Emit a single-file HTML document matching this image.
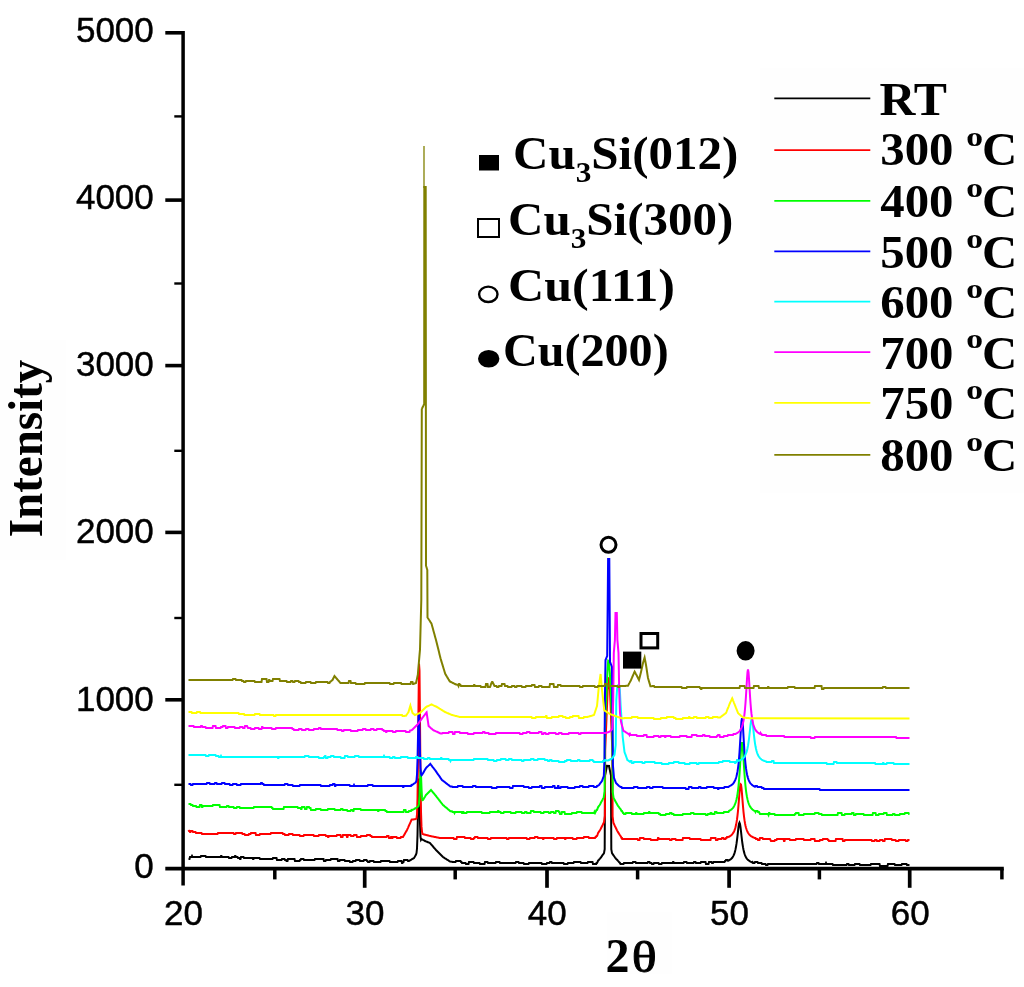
<!DOCTYPE html>
<html lang="en">
<head>
<meta charset="utf-8">
<title>XRD patterns</title>
<style>
html,body{margin:0;padding:0;background:#fff;}
body{width:1024px;height:987px;overflow:hidden;}
svg{display:block;}
</style>
</head>
<body>
<svg width="1024" height="987" viewBox="0 0 1024 987">
<rect x="0" y="0" width="1024" height="987" fill="#ffffff"/>
<rect x="0" y="340" width="66" height="220" fill="#fefefe"/>
<rect x="607" y="912" width="65" height="62" fill="#fefefe"/>
<rect x="760" y="68" width="264" height="425" fill="#fefefe"/>
<g fill="none" stroke-width="2" stroke-linejoin="miter" stroke-linecap="butt">
<path stroke="#000000" d="M188.5 859.0L189.5 859.0L190.0 857.0L191.5 857.0L192.0 856.0L192.5 857.0L200.5 857.0L201.0 856.0L205.5 856.0L206.0 857.0L220.5 857.0L221.0 856.0L221.5 856.0L222.0 857.0L228.5 857.0L229.0 858.0L231.5 858.0L232.0 857.0L234.5 857.0L235.0 856.0L235.5 856.0L236.0 857.0L237.5 857.0L238.0 858.0L239.5 858.0L240.0 859.0L240.5 859.0L241.0 857.0L243.5 857.0L244.0 858.0L252.5 858.0L253.0 859.0L253.5 859.0L254.0 858.0L259.5 858.0L260.0 859.0L272.5 859.0L273.0 858.0L276.5 858.0L277.0 860.0L281.5 860.0L282.0 859.0L284.5 859.0L285.0 860.0L286.0 860.0L286.5 861.0L287.5 861.0L288.0 859.0L294.5 859.0L295.0 861.0L299.5 861.0L300.0 860.0L300.5 860.0L301.0 859.0L303.5 859.0L304.0 860.0L314.5 860.0L315.0 859.0L323.5 859.0L324.0 861.0L325.5 861.0L326.0 860.0L330.5 860.0L331.0 859.0L337.5 859.0L338.0 861.0L339.5 861.0L340.0 860.0L344.5 860.0L345.0 861.0L349.5 861.0L350.0 862.0L352.5 862.0L353.0 861.0L355.5 861.0L356.0 860.0L359.5 860.0L360.0 861.0L363.5 861.0L364.0 860.0L366.5 860.0L367.0 861.0L367.5 861.0L368.0 862.0L369.5 862.0L370.0 861.0L373.5 861.0L374.0 862.0L380.5 862.0L381.0 861.0L389.5 861.0L390.0 862.0L397.5 862.0L398.0 861.0L401.5 861.0L402.0 863.0L402.5 863.0L403.0 862.0L403.5 862.0L404.0 860.0L407.5 860.0L408.0 861.0L409.0 861.0L409.5 860.7L410.0 860.4L410.5 860.1L411.0 859.8L411.5 859.5L412.0 859.2L412.5 858.9L413.0 858.6L413.5 858.3L414.0 858.0L414.5 857.2L415.0 856.3L415.5 855.5L416.0 854.6L416.5 853.1L417.0 848.5L417.5 835.0L418.0 809.4L418.5 783.3L419.0 778.6L419.5 799.0L420.0 823.5L420.5 836.6L421.0 839.7L421.5 838.9L422.0 839.3L422.5 839.6L423.0 839.9L423.5 840.1L424.0 840.4L424.5 840.7L425.0 841.0L425.5 841.2L426.0 841.4L426.5 841.6L427.0 841.8L427.5 842.0L428.0 842.2L428.5 842.4L429.0 842.6L429.5 842.8L430.0 843.0L430.5 843.6L431.0 844.2L431.5 844.7L432.0 845.3L432.5 845.9L433.0 846.5L433.5 847.1L434.0 847.7L434.5 848.2L435.0 848.8L435.5 849.4L436.0 850.0L436.5 850.5L437.0 851.0L437.5 851.5L438.0 852.0L438.5 852.5L439.0 853.0L439.5 853.5L440.0 854.0L440.5 854.5L441.0 855.0L441.5 855.5L442.0 856.0L442.5 856.5L443.0 857.0L443.5 857.3L444.0 857.6L444.5 858.0L445.0 858.3L445.5 858.6L446.0 858.9L446.5 859.2L447.0 859.6L447.5 859.9L448.0 860.2L448.5 860.5L449.0 860.9L449.5 861.2L450.0 861.5L452.0 861.7L452.5 862.0L455.5 862.0L456.0 861.0L460.5 861.0L461.0 862.0L461.5 862.0L462.0 863.0L465.5 863.0L466.0 864.0L468.5 864.0L469.0 862.0L473.5 862.0L474.0 863.0L479.5 863.0L480.0 864.0L484.5 864.0L485.0 862.0L487.5 862.0L488.0 863.0L495.5 863.0L496.0 862.0L499.5 862.0L500.0 863.0L515.5 863.0L516.0 862.0L518.5 862.0L519.0 863.0L523.5 863.0L524.0 864.0L528.5 864.0L529.0 863.0L541.5 863.0L542.0 864.0L546.5 864.0L547.0 863.0L549.5 863.0L550.0 862.0L551.5 862.0L552.0 863.0L563.5 863.0L564.0 864.0L567.5 864.0L568.0 863.0L573.5 863.0L574.0 862.0L580.5 862.0L581.0 863.0L587.5 863.0L588.0 862.0L592.5 862.0L593.0 864.0L596.2 864.0L596.5 863.0L597.0 863.0L597.5 862.0L598.0 860.8L598.5 860.2L599.0 859.7L599.5 859.1L600.0 858.6L600.5 858.0L600.6 857.9L601.0 857.4L601.5 856.7L602.0 855.9L602.5 855.2L603.0 854.5L603.5 853.8L604.0 853.1L604.5 850.3L604.7 849.2L605.0 780.1L605.0 775.5L605.5 773.2L606.0 770.8L606.5 768.4L607.0 766.0L607.0 765.8L609.0 765.9L609.0 766.1L609.5 768.5L610.0 770.9L610.5 773.3L611.0 775.6L611.0 780.2L611.3 849.3L611.5 850.4L612.0 853.2L612.5 853.9L613.0 854.6L613.5 855.3L614.0 856.0L614.5 856.7L615.0 857.5L615.4 858.0L615.5 858.1L616.0 858.7L616.5 859.2L617.0 859.8L617.5 860.3L618.0 860.9L618.5 861.4L619.0 862.0L619.5 862.5L619.8 862.9L620.0 862.9L620.5 864.0L623.5 864.0L624.0 863.0L632.5 863.0L633.0 862.0L635.5 862.0L636.0 863.0L647.5 863.0L648.0 862.0L649.5 862.0L650.0 863.0L651.5 863.0L652.0 864.0L653.5 864.0L654.0 863.0L658.5 863.0L659.0 864.0L661.5 864.0L662.0 863.0L672.5 863.0L673.0 862.0L673.5 862.0L674.0 863.0L683.5 863.0L684.0 862.0L686.5 862.0L687.0 863.0L693.5 863.0L694.0 862.0L695.5 862.0L696.0 863.0L700.5 863.0L701.0 862.0L705.5 862.0L706.0 864.0L708.5 864.0L709.0 862.0L711.5 862.0L712.0 863.0L713.0 863.0L713.5 862.0L724.5 862.0L725.0 861.0L725.5 861.0L726.0 860.0L727.5 860.0L728.0 860.7L728.5 860.5L729.0 860.2L729.5 860.0L730.0 859.7L730.5 859.4L731.0 859.0L731.5 858.5L732.0 858.0L732.5 857.3L733.0 856.6L733.5 855.6L734.0 854.5L734.5 853.1L735.0 851.4L735.5 849.4L736.0 846.8L736.5 843.7L737.0 840.0L737.5 835.8L738.0 831.3L738.5 827.0L739.0 823.9L739.5 822.7L740.0 823.9L740.5 827.1L741.0 831.4L741.5 836.0L742.0 840.3L742.5 844.0L743.0 847.2L743.5 849.8L744.0 851.9L744.5 853.6L745.0 855.1L745.5 856.2L746.0 857.2L746.5 858.1L747.0 858.8L747.5 859.4L748.0 859.9L748.5 860.3L749.0 860.7L749.5 861.0L750.0 861.3L750.5 861.6L751.0 861.8L751.5 862.1L752.0 862.3L752.5 862.0L753.0 863.0L754.5 863.0L755.0 862.0L757.5 862.0L758.0 863.0L761.5 863.0L762.0 864.0L765.5 864.0L766.0 865.0L767.5 865.0L768.0 864.0L816.5 864.0L817.0 863.0L818.5 863.0L819.0 864.0L825.5 864.0L826.0 863.0L826.5 864.0L832.5 864.0L833.0 865.0L846.5 865.0L847.0 864.0L848.5 864.0L849.0 865.0L854.5 865.0L855.0 864.0L859.5 864.0L860.0 865.0L870.5 865.0L871.0 864.0L879.5 864.0L880.0 866.0L887.5 866.0L888.0 864.0L894.5 864.0L895.0 865.0L901.5 865.0L902.0 864.0L906.5 864.0L907.0 865.0L909.5 865.0"/>
<path stroke="#ff0000" d="M188.5 830.0L189.0 831.0L189.5 831.0L190.0 832.0L190.5 832.0L191.0 831.0L192.5 831.0L193.0 832.0L195.5 832.0L196.0 833.0L201.5 833.0L202.0 834.0L217.5 834.0L218.0 833.0L233.5 833.0L234.0 834.0L235.5 834.0L236.0 833.0L242.0 833.0L242.5 834.0L244.5 834.0L245.0 835.0L248.5 835.0L249.0 834.0L250.5 834.0L251.0 833.0L255.5 833.0L256.0 835.0L259.5 835.0L260.0 834.0L270.5 834.0L271.0 833.0L282.5 833.0L283.0 834.0L284.5 834.0L285.0 835.0L288.5 835.0L289.0 834.0L292.5 834.0L293.0 835.0L299.5 835.0L300.0 836.0L303.5 836.0L304.0 835.0L313.5 835.0L314.0 836.0L318.5 836.0L319.0 835.0L325.5 835.0L326.0 836.0L327.5 836.0L328.0 837.0L328.5 837.0L329.0 836.0L336.5 836.0L337.0 835.0L340.5 835.0L341.0 837.0L342.5 837.0L343.0 835.0L346.5 835.0L347.0 837.0L347.5 837.0L348.0 835.0L350.5 835.0L351.0 836.0L353.5 836.0L354.0 835.0L356.5 835.0L357.0 837.0L360.5 837.0L361.0 836.0L366.5 836.0L367.0 835.0L370.0 835.0L370.5 836.0L371.5 836.0L372.0 837.0L386.5 837.0L387.0 836.0L388.5 836.0L389.0 838.0L390.5 838.0L391.0 837.0L391.5 837.0L392.0 838.0L392.5 838.0L393.0 837.0L396.5 837.0L397.0 838.0L400.5 838.0L401.0 837.0L403.0 837.0L403.5 836.1L404.0 835.2L404.5 834.4L405.0 833.5L405.5 832.6L406.0 831.7L406.5 830.9L407.0 830.0L407.5 828.9L408.0 827.8L408.5 826.6L409.0 825.5L409.5 824.4L410.0 823.3L410.5 822.2L411.0 821.0L411.5 819.9L411.6 819.7L412.0 819.6L412.5 819.6L413.0 819.5L413.5 819.4L414.0 819.3L414.5 819.2L415.0 819.2L415.5 819.1L416.0 818.9L416.5 818.5L417.0 814.3L417.5 798.5L418.0 760.9L418.5 705.4L419.0 663.5L419.5 670.6L420.0 720.8L420.5 776.6L421.0 811.6L421.5 826.4L422.0 831.6L422.5 833.9L423.0 834.1L423.5 834.3L424.0 834.4L424.5 834.5L425.0 834.7L425.5 834.8L426.0 834.9L426.5 835.1L427.0 835.2L427.5 835.3L428.0 835.5L428.5 835.6L429.0 835.7L429.5 835.9L430.0 836.0L430.5 836.1L431.0 836.2L431.5 836.3L432.0 836.4L432.5 836.5L433.0 836.6L433.5 836.7L434.0 836.8L434.5 836.9L435.0 837.0L435.5 837.1L436.0 837.2L436.5 837.3L437.0 837.4L437.5 837.5L438.0 837.6L438.5 837.7L439.0 837.8L439.5 837.9L440.0 838.0L453.5 838.0L454.0 839.0L456.5 839.0L457.0 837.0L464.5 837.0L465.0 838.0L470.5 838.0L471.0 839.0L473.5 839.0L474.0 838.0L474.5 838.0L475.0 837.0L477.5 837.0L478.0 838.0L487.5 838.0L488.0 839.0L490.5 839.0L491.0 838.0L506.5 838.0L507.0 839.0L508.5 839.0L509.0 838.0L526.5 838.0L527.0 839.0L529.5 839.0L530.0 838.0L534.5 838.0L535.0 837.0L537.5 837.0L538.0 838.0L542.5 838.0L543.0 839.0L543.5 839.0L544.0 838.0L553.5 838.0L554.0 839.0L556.5 839.0L557.0 838.0L564.5 838.0L565.0 839.0L565.5 839.0L566.0 838.0L572.5 838.0L573.0 839.0L576.5 839.0L577.0 838.0L583.5 838.0L584.0 837.0L588.5 837.0L589.0 838.0L595.0 838.0L595.5 837.0L596.0 837.0L596.5 836.0L597.0 836.0L597.5 835.0L598.0 833.1L598.5 832.4L599.0 831.6L599.5 830.9L599.9 830.3L600.0 830.1L600.5 829.2L601.0 828.2L601.5 827.2L602.0 826.2L602.5 825.3L603.0 824.3L603.5 823.3L604.0 822.3L604.5 818.7L604.9 815.9L605.0 790.5L605.2 750.3L605.5 742.6L606.0 730.2L606.5 718.3L606.5 717.8L607.0 706.2L607.5 694.6L607.6 691.1L608.0 685.9L608.5 678.4L608.5 678.3L609.0 678.6L609.3 678.8L609.5 682.7L610.0 690.8L610.0 691.6L610.5 702.9L611.0 715.5L611.1 718.8L611.5 728.7L612.0 742.2L612.3 750.8L612.5 791.5L612.6 816.4L613.0 819.5L613.4 822.8L613.5 823.0L614.0 824.0L614.5 825.1L615.0 826.2L615.5 827.2L616.0 828.3L616.5 829.3L617.0 830.4L617.2 830.8L617.5 831.3L618.0 832.1L618.5 832.9L619.0 833.7L619.5 834.5L620.0 835.2L620.5 836.0L621.0 836.8L621.5 838.0L622.0 838.0L622.2 839.0L637.5 839.0L638.0 840.0L639.5 840.0L640.0 838.0L643.5 838.0L644.0 839.0L650.5 839.0L651.0 840.0L657.5 840.0L658.0 838.0L658.5 838.0L659.0 839.0L669.5 839.0L670.0 840.0L671.5 840.0L672.0 839.0L675.5 839.0L676.0 840.0L682.5 840.0L683.0 838.0L689.5 838.0L690.0 839.0L700.5 839.0L701.0 840.0L710.5 840.0L711.0 838.0L715.5 838.0L716.0 840.0L717.5 840.0L718.0 839.0L721.5 839.0L722.0 838.0L723.5 838.0L724.0 839.0L725.5 839.0L726.0 838.0L726.5 838.0L727.0 837.0L727.5 837.0L728.0 837.1L728.5 836.9L729.0 836.7L729.5 836.5L730.0 836.2L730.5 835.8L731.0 835.5L731.5 835.0L732.0 834.5L732.5 833.9L733.0 833.2L733.5 832.4L734.0 831.5L734.5 830.3L735.0 828.9L735.5 827.2L736.0 825.1L736.5 822.6L737.0 819.4L737.5 815.5L738.0 810.8L738.5 805.2L739.0 798.9L739.5 792.5L740.0 787.1L740.5 784.1L741.0 784.5L741.5 788.1L742.0 793.8L742.5 800.2L743.0 806.4L743.5 811.9L744.0 816.4L744.5 820.2L745.0 823.2L745.5 825.7L746.0 827.7L746.5 829.3L747.0 830.7L747.5 831.8L748.0 832.7L748.5 833.5L749.0 834.2L749.5 834.8L750.0 835.3L750.5 835.7L751.0 836.1L751.5 836.4L752.0 836.7L752.5 837.0L753.0 837.2L753.5 837.4L754.0 837.6L754.5 838.0L755.5 838.0L756.0 839.0L757.5 839.0L758.0 840.0L759.5 840.0L760.0 838.0L762.5 838.0L763.0 839.0L770.0 839.0L770.5 840.0L771.0 841.0L774.5 841.0L775.0 840.0L776.5 840.0L777.0 839.0L783.5 839.0L784.0 841.0L784.5 841.0L785.0 839.0L789.5 839.0L790.0 840.0L795.5 840.0L796.0 839.0L803.5 839.0L804.0 840.0L810.5 840.0L811.0 839.0L814.5 839.0L815.0 841.0L819.5 841.0L820.0 840.0L822.5 840.0L823.0 839.0L827.5 839.0L828.0 840.0L828.5 840.0L829.0 841.0L835.5 841.0L836.0 839.0L842.5 839.0L843.0 841.0L844.5 841.0L845.0 840.0L871.5 840.0L872.0 841.0L874.5 841.0L875.0 840.0L876.5 840.0L877.0 841.0L879.5 841.0L880.0 840.0L882.5 840.0L883.0 841.0L884.5 841.0L885.0 839.0L891.5 839.0L892.0 840.0L895.5 840.0L896.0 841.0L898.5 841.0L899.0 840.0L905.5 840.0L906.0 841.0L907.5 841.0L908.0 840.0L909.5 840.0"/>
<path stroke="#00ff00" d="M188.5 804.0L190.5 804.0L191.0 805.0L192.5 805.0L193.0 806.0L196.0 806.0L196.5 807.0L199.5 807.0L200.0 805.0L201.5 805.0L202.0 807.0L202.5 807.0L203.0 806.0L212.5 806.0L213.0 805.0L219.5 805.0L220.0 807.0L226.5 807.0L227.0 806.0L228.5 806.0L229.0 807.0L233.5 807.0L234.0 808.0L236.5 808.0L237.0 807.0L239.5 807.0L240.0 808.0L253.5 808.0L254.0 807.0L271.5 807.0L272.0 808.0L272.5 808.0L273.0 809.0L283.5 809.0L284.0 807.0L297.5 807.0L298.0 808.0L300.5 808.0L301.0 809.0L301.5 809.0L302.0 807.0L304.5 807.0L305.0 809.0L306.5 809.0L307.0 807.0L309.0 807.0L309.5 808.0L310.5 808.0L311.0 810.0L315.5 810.0L316.0 809.0L320.5 809.0L321.0 810.0L327.5 810.0L328.0 809.0L334.5 809.0L335.0 810.0L340.5 810.0L341.0 809.0L342.5 809.0L343.0 810.0L347.0 810.0L347.5 811.0L350.5 811.0L351.0 810.0L352.5 810.0L353.0 811.0L353.5 811.0L354.0 809.0L360.5 809.0L361.0 810.0L377.5 810.0L378.0 811.0L378.5 811.0L379.0 810.0L385.0 810.0L385.5 811.0L386.5 811.0L387.0 812.0L403.5 812.0L404.0 810.0L405.5 810.0L406.0 812.0L408.5 812.0L409.0 811.0L411.0 811.0L411.5 810.0L412.0 810.1L412.5 809.9L413.0 809.6L413.5 809.3L414.0 809.1L414.5 808.8L415.0 808.5L415.5 808.3L416.0 808.0L416.5 807.7L417.0 807.3L417.5 807.0L418.0 806.6L418.5 806.0L419.0 803.9L419.5 796.1L420.0 781.5L420.5 770.1L421.0 774.4L421.5 788.1L422.0 797.4L422.5 800.1L423.0 799.9L423.5 799.2L424.0 798.3L424.5 797.5L425.0 796.7L425.5 795.8L426.0 795.0L426.5 794.5L427.0 794.0L427.5 793.5L428.0 793.0L428.5 792.5L429.0 792.0L429.5 791.5L430.0 791.0L430.5 790.5L431.0 790.0L431.5 790.6L432.0 791.2L432.5 791.8L433.0 792.4L433.5 793.0L434.0 793.6L434.5 794.2L435.0 794.8L435.5 795.4L436.0 796.0L436.5 796.6L437.0 797.3L437.5 797.9L438.0 798.6L438.5 799.2L439.0 799.9L439.5 800.5L440.0 801.1L440.5 801.8L441.0 802.4L441.5 803.1L442.0 803.7L442.5 804.4L443.0 805.0L443.5 805.4L444.0 805.8L444.5 806.3L445.0 806.7L445.5 807.1L446.0 807.5L446.5 807.9L447.0 808.3L447.5 808.8L448.0 809.2L448.5 809.6L449.0 810.0L449.5 810.4L450.0 810.9L450.4 811.2L452.0 811.3L452.5 812.0L454.0 812.0L454.5 813.0L455.0 812.0L461.5 812.0L462.0 813.0L462.5 813.0L463.0 812.0L463.5 812.0L464.0 813.0L466.5 813.0L467.0 812.0L481.5 812.0L482.0 813.0L489.5 813.0L490.0 812.0L497.5 812.0L498.0 811.0L498.5 811.0L499.0 812.0L500.5 812.0L501.0 813.0L503.5 813.0L504.0 812.0L510.5 812.0L511.0 813.0L515.5 813.0L516.0 812.0L521.5 812.0L522.0 813.0L524.5 813.0L525.0 812.0L526.5 812.0L527.0 813.0L530.5 813.0L531.0 811.0L533.5 811.0L534.0 812.0L540.5 812.0L541.0 813.0L543.5 813.0L544.0 812.0L548.5 812.0L549.0 813.0L550.5 813.0L551.0 812.0L553.5 812.0L554.0 813.0L555.5 813.0L556.0 811.0L558.5 811.0L559.0 812.0L559.5 812.0L560.0 814.0L561.5 814.0L562.0 812.0L564.5 812.0L565.0 814.0L571.5 814.0L572.0 813.0L576.5 813.0L577.0 812.0L581.5 812.0L582.0 813.0L594.2 813.0L594.5 812.0L595.0 813.0L595.5 812.0L596.0 811.0L596.5 810.0L597.0 810.0L597.5 809.0L598.0 807.3L598.5 806.6L599.0 805.9L599.5 805.3L599.6 805.1L600.0 804.4L600.5 803.5L601.0 802.5L601.5 801.6L602.0 800.7L602.5 799.8L603.0 798.8L603.5 797.9L603.7 797.5L604.0 795.5L604.5 791.9L604.6 791.4L604.9 729.1L605.0 726.5L605.5 714.7L606.0 702.9L606.2 698.7L606.5 691.6L607.0 680.6L607.4 672.9L607.5 670.7L608.0 663.6L608.2 660.7L608.5 660.9L609.0 661.2L609.5 668.1L609.9 673.4L610.0 675.9L610.5 686.7L611.0 697.4L611.1 699.2L611.5 708.8L612.0 720.4L612.4 729.6L612.5 749.0L612.7 791.9L613.0 793.8L613.5 797.3L613.6 798.0L614.0 798.7L614.5 799.6L615.0 800.5L615.5 801.4L616.0 802.3L616.5 803.2L617.0 804.1L617.5 805.0L617.8 805.6L618.0 805.8L618.5 806.5L619.0 807.2L619.5 807.9L620.0 808.5L620.5 809.0L621.0 810.0L621.5 811.0L622.0 811.0L622.5 812.0L623.0 813.0L623.5 813.0L624.0 814.0L625.5 814.0L626.0 813.0L631.5 813.0L632.0 814.0L635.5 814.0L636.0 813.0L636.5 813.0L637.0 814.0L643.5 814.0L644.0 813.0L648.5 813.0L649.0 812.0L649.5 812.0L650.0 813.0L658.5 813.0L659.0 814.0L660.0 814.0L660.5 815.0L665.5 815.0L666.0 814.0L669.5 814.0L670.0 813.0L671.5 813.0L672.0 814.0L673.5 814.0L674.0 815.0L682.5 815.0L683.0 814.0L690.5 814.0L691.0 813.0L693.5 813.0L694.0 814.0L705.5 814.0L706.0 815.0L707.5 815.0L708.0 814.0L710.0 814.0L710.5 813.0L711.5 813.0L712.0 814.0L714.5 814.0L715.0 812.0L716.5 812.0L717.0 813.0L723.5 813.0L724.0 812.0L728.5 812.0L729.0 811.0L729.5 810.7L730.0 810.4L730.5 810.1L731.0 809.8L731.5 809.4L732.0 808.9L732.5 808.4L733.0 807.8L733.5 807.1L734.0 806.3L734.5 805.4L735.0 804.2L735.5 802.9L736.0 801.3L736.5 799.4L737.0 797.0L737.5 794.1L738.0 790.5L738.5 786.1L739.0 780.7L739.5 774.1L740.0 766.5L740.5 758.3L741.0 750.3L741.5 744.4L742.0 742.2L742.5 744.4L743.0 750.4L743.5 758.3L744.0 766.5L744.5 774.2L745.0 780.7L745.5 786.1L746.0 790.6L746.5 794.1L747.0 797.0L747.5 799.4L748.0 801.4L748.5 803.0L749.0 804.3L749.5 805.4L750.0 806.4L750.5 807.2L751.0 807.9L751.5 808.5L752.0 809.0L752.5 809.5L753.0 809.9L753.5 810.2L754.0 810.6L754.5 810.8L755.0 811.1L755.5 812.0L756.0 811.0L757.5 811.0L758.0 812.0L759.0 812.0L759.5 813.0L760.0 814.0L768.0 814.0L768.5 815.0L769.0 813.0L769.5 813.0L770.0 814.0L774.5 814.0L775.0 815.0L794.5 815.0L795.0 814.0L795.5 814.0L796.0 813.0L798.5 813.0L799.0 815.0L803.5 815.0L804.0 814.0L814.5 814.0L815.0 813.0L818.5 813.0L819.0 814.0L821.5 814.0L822.0 815.0L837.5 815.0L838.0 813.0L841.5 813.0L842.0 815.0L844.5 815.0L845.0 814.0L851.5 814.0L852.0 813.0L853.5 813.0L854.0 815.0L855.5 815.0L856.0 814.0L863.5 814.0L864.0 815.0L872.5 815.0L873.0 813.0L875.5 813.0L876.0 815.0L878.5 815.0L879.0 814.0L883.5 814.0L884.0 813.0L886.5 813.0L887.0 815.0L892.5 815.0L893.0 814.0L894.5 814.0L895.0 815.0L899.5 815.0L900.0 814.0L904.5 814.0L905.0 813.0L908.5 813.0L909.0 814.0L909.5 814.0"/>
<path stroke="#0000ff" d="M188.5 784.0L190.5 784.0L191.0 785.0L192.5 785.0L193.0 784.0L206.5 784.0L207.0 783.0L209.5 783.0L210.0 784.0L214.5 784.0L215.0 783.0L216.5 783.0L217.0 784.0L221.5 784.0L222.0 783.0L224.5 783.0L225.0 784.0L229.5 784.0L230.0 785.0L232.5 785.0L233.0 784.0L236.5 784.0L237.0 785.0L240.5 785.0L241.0 784.0L260.5 784.0L261.0 783.0L262.0 783.0L262.5 784.0L263.5 784.0L264.0 785.0L284.5 785.0L285.0 784.0L287.5 784.0L288.0 785.0L292.5 785.0L293.0 786.0L299.5 786.0L300.0 785.0L320.5 785.0L321.0 786.0L329.5 786.0L330.0 785.0L332.5 785.0L333.0 784.0L334.5 784.0L335.0 786.0L335.5 786.0L336.0 785.0L349.5 785.0L350.0 786.0L353.5 786.0L354.0 785.0L354.5 786.0L367.5 786.0L368.0 785.0L372.5 785.0L373.0 786.0L402.5 786.0L403.0 787.0L403.5 787.0L404.0 786.0L411.0 786.0L411.5 785.0L412.0 785.1L412.5 784.7L413.0 784.4L413.5 784.0L414.0 783.7L414.5 783.3L415.0 783.0L415.5 782.6L416.0 782.0L416.5 780.3L417.0 774.5L417.5 760.3L418.0 737.4L418.5 716.4L419.0 713.4L419.5 730.3L420.0 752.9L420.5 768.1L421.0 774.1L421.5 775.3L422.0 774.9L422.5 774.1L423.0 773.2L423.5 772.4L424.0 771.5L424.5 770.6L425.0 769.7L425.5 768.9L426.0 768.0L426.5 767.5L427.0 767.0L427.5 766.6L428.0 766.1L428.5 765.6L429.0 765.1L429.5 764.7L430.0 764.2L430.3 763.9L430.5 764.2L431.0 764.8L431.5 765.5L432.0 766.1L432.5 766.8L433.0 767.4L433.5 768.0L434.0 768.7L434.5 769.3L435.0 770.0L435.5 770.7L436.0 771.4L436.5 772.1L437.0 772.9L437.5 773.6L438.0 774.3L438.5 775.0L439.0 775.7L439.5 776.4L440.0 777.1L440.5 777.9L441.0 778.6L441.5 779.3L442.0 780.0L442.5 780.4L443.0 780.8L443.5 781.2L444.0 781.5L444.5 781.9L445.0 782.3L445.5 782.7L446.0 783.1L446.5 783.5L447.0 783.9L447.5 784.3L448.0 784.6L448.5 785.0L449.0 785.4L449.5 785.8L450.0 786.2L450.4 786.5L452.0 786.6L452.5 787.0L457.5 787.0L458.0 786.0L462.5 786.0L463.0 787.0L472.5 787.0L473.0 786.0L475.5 786.0L476.0 787.0L491.5 787.0L492.0 788.0L496.5 788.0L497.0 787.0L509.5 787.0L510.0 788.0L512.5 788.0L513.0 786.0L523.5 786.0L524.0 787.0L528.5 787.0L529.0 788.0L531.5 788.0L532.0 787.0L539.5 787.0L540.0 786.0L541.5 786.0L542.0 788.0L544.5 788.0L545.0 787.0L552.5 787.0L553.0 786.0L554.5 786.0L555.0 788.0L557.5 788.0L558.0 786.0L558.5 786.0L559.0 788.0L560.5 788.0L561.0 787.0L567.5 787.0L568.0 788.0L574.5 788.0L575.0 787.0L579.5 787.0L580.0 786.0L582.5 786.0L583.0 787.0L588.5 787.0L589.0 786.0L593.5 786.0L594.0 787.0L596.5 787.0L597.0 786.0L597.5 786.0L598.0 785.7L598.5 785.3L599.0 785.0L599.5 784.3L600.0 783.6L600.5 783.0L601.0 782.3L601.5 781.6L602.0 781.0L602.5 779.6L603.0 778.2L603.5 776.8L603.8 776.0L604.0 771.4L604.5 760.0L604.9 700.0L605.0 693.3L605.5 660.0L606.0 658.8L606.5 657.6L607.0 656.4L607.2 656.0L607.5 623.6L608.0 569.8L608.1 559.0L609.3 559.0L609.5 588.4L610.0 662.0L610.5 663.2L611.0 664.5L611.5 665.7L612.0 667.0L612.5 720.0L612.9 765.0L613.0 766.2L613.5 772.1L614.0 778.0L614.5 779.2L615.0 780.5L615.5 781.7L616.0 783.0L616.5 783.5L617.0 784.0L617.5 784.5L618.0 785.0L618.5 785.5L619.0 786.0L619.5 786.3L620.0 786.5L620.5 787.0L621.5 787.0L622.0 788.0L633.5 788.0L634.0 787.0L637.5 787.0L638.0 788.0L646.5 788.0L647.0 787.0L649.5 787.0L650.0 788.0L652.5 788.0L653.0 787.0L662.5 787.0L663.0 788.0L685.5 788.0L686.0 789.0L688.5 789.0L689.0 787.0L691.5 787.0L692.0 788.0L698.5 788.0L699.0 787.0L700.5 787.0L701.0 788.0L706.5 788.0L707.0 787.0L713.5 787.0L714.0 788.0L717.5 788.0L718.0 789.0L718.5 789.0L719.0 788.0L724.0 788.0L724.5 787.0L728.5 787.0L729.0 786.4L729.5 786.1L730.0 785.9L730.5 785.7L731.0 785.4L731.5 785.0L732.0 784.6L732.5 784.2L733.0 783.7L733.5 783.1L734.0 782.4L734.5 781.5L735.0 780.6L735.5 779.4L736.0 778.0L736.5 776.2L737.0 774.1L737.5 771.4L738.0 768.1L738.5 764.0L739.0 758.8L739.5 752.3L740.0 744.6L740.5 736.0L741.0 727.4L741.5 720.8L742.0 718.3L742.5 720.8L743.0 727.4L743.5 736.0L744.0 744.7L744.5 752.4L745.0 758.8L745.5 764.1L746.0 768.2L746.5 771.6L747.0 774.2L747.5 776.4L748.0 778.1L748.5 779.6L749.0 780.7L749.5 781.7L750.0 782.6L750.5 783.3L751.0 783.9L751.5 784.4L752.0 784.9L752.5 785.3L753.0 785.6L753.5 786.0L754.0 786.2L754.5 786.5L755.0 786.7L755.5 786.0L757.0 786.0L757.5 787.0L761.5 787.0L762.0 788.0L763.5 788.0L764.0 789.0L819.5 789.0L820.0 790.0L909.5 790.0"/>
<path stroke="#00ffff" d="M188.5 755.0L205.5 755.0L206.0 756.0L208.5 756.0L209.0 755.0L215.5 755.0L216.0 756.0L218.5 756.0L219.0 757.0L220.5 757.0L221.0 756.0L221.5 757.0L277.5 757.0L278.0 758.0L278.5 758.0L279.0 757.0L304.5 757.0L305.0 756.0L308.5 756.0L309.0 757.0L318.5 757.0L319.0 758.0L323.5 758.0L324.0 757.0L324.5 757.0L325.0 756.0L325.5 756.0L326.0 758.0L327.5 758.0L328.0 757.0L330.5 757.0L331.0 756.0L333.5 756.0L334.0 757.0L340.5 757.0L341.0 758.0L344.5 758.0L345.0 756.0L347.5 756.0L348.0 757.0L354.5 757.0L355.0 756.0L358.5 756.0L359.0 757.0L383.5 757.0L384.0 756.0L384.5 757.0L389.5 757.0L390.0 758.0L392.5 758.0L393.0 757.0L394.5 757.0L395.0 758.0L400.5 758.0L401.0 757.0L407.5 757.0L408.0 758.0L415.5 758.0L416.0 757.0L417.5 757.0L418.0 758.0L423.5 758.0L424.0 759.0L427.5 759.0L428.0 758.0L429.5 758.0L430.0 759.0L440.5 759.0L441.0 758.0L441.5 758.0L442.0 759.0L448.5 759.0L449.0 760.0L450.0 760.0L450.5 761.0L451.0 760.0L473.5 760.0L474.0 759.0L487.5 759.0L488.0 760.0L493.5 760.0L494.0 761.0L496.5 761.0L497.0 760.0L500.5 760.0L501.0 759.0L505.5 759.0L506.0 760.0L508.5 760.0L509.0 759.0L511.5 759.0L512.0 760.0L521.5 760.0L522.0 761.0L523.5 761.0L524.0 760.0L530.5 760.0L531.0 759.0L533.5 759.0L534.0 760.0L537.5 760.0L538.0 759.0L544.5 759.0L545.0 760.0L547.5 760.0L548.0 761.0L549.5 761.0L550.0 760.0L551.5 760.0L552.0 761.0L558.5 761.0L559.0 762.0L564.5 762.0L565.0 761.0L566.5 761.0L567.0 760.0L570.5 760.0L571.0 761.0L577.5 761.0L578.0 760.0L579.5 760.0L580.0 761.0L589.5 761.0L590.0 760.0L592.5 760.0L593.0 761.0L593.5 761.0L594.0 762.0L602.5 762.0L603.0 761.0L604.5 761.0L605.0 760.0L605.5 760.0L606.0 760.6L608.0 760.5L608.5 760.2L609.0 760.0L609.5 759.7L610.0 759.5L610.5 759.2L611.0 759.0L611.5 758.7L612.0 758.5L612.5 757.8L613.0 757.1L613.5 756.4L614.0 755.7L614.5 755.0L615.0 750.8L615.5 746.6L615.7 745.0L616.0 722.5L616.3 700.0L616.5 697.2L617.0 690.2L617.3 686.0L617.5 685.8L618.0 685.4L618.5 685.0L619.0 686.5L619.5 688.1L619.8 689.0L620.0 693.0L620.5 703.0L620.6 705.0L621.0 711.1L621.5 718.7L622.0 726.3L622.5 733.9L622.7 737.0L623.0 739.5L623.5 743.6L624.0 747.8L624.5 752.0L625.0 753.4L625.5 754.7L626.0 756.1L626.5 757.5L627.0 758.9L627.4 760.0L627.5 760.0L628.0 760.4L628.5 760.7L629.0 761.1L629.5 761.4L630.0 761.8L630.5 761.0L631.5 761.0L632.0 763.0L633.5 763.0L634.0 762.0L642.0 762.0L642.5 763.0L644.5 763.0L645.0 762.0L654.5 762.0L655.0 763.0L661.5 763.0L662.0 764.0L668.5 764.0L669.0 763.0L673.5 763.0L674.0 762.0L678.5 762.0L679.0 763.0L684.5 763.0L685.0 764.0L689.5 764.0L690.0 763.0L696.5 763.0L697.0 764.0L698.5 764.0L699.0 763.0L718.5 763.0L719.0 762.0L722.5 762.0L723.0 761.0L729.5 761.0L730.0 762.0L734.5 762.0L735.0 763.0L735.5 763.0L736.0 762.0L736.5 762.0L737.0 760.0L737.5 760.0L738.0 761.0L738.5 760.9L739.0 760.7L739.5 760.5L740.0 760.3L740.5 760.1L741.0 759.8L741.5 759.6L742.0 759.2L742.5 758.8L743.0 758.4L743.5 757.9L744.0 757.3L744.5 756.6L745.0 755.7L745.5 754.7L746.0 753.5L746.5 752.1L747.0 750.4L747.5 748.2L748.0 745.7L748.5 742.5L749.0 738.8L749.5 734.5L750.0 729.8L750.5 725.2L751.0 721.4L751.5 719.3L752.0 719.6L752.5 722.1L753.0 726.1L753.5 730.8L754.0 735.5L754.5 739.7L755.0 743.3L755.5 746.3L756.0 748.8L756.5 750.8L757.0 752.5L757.5 753.9L758.0 755.1L758.5 756.0L759.0 756.8L759.5 757.5L760.0 758.1L760.5 758.6L761.0 759.1L761.5 759.5L762.0 759.8L762.5 760.1L763.0 760.3L763.5 760.6L764.0 760.8L764.5 761.0L765.0 761.1L765.5 761.3L766.0 761.4L766.5 762.0L771.5 762.0L772.0 761.0L773.5 761.0L774.0 763.0L826.5 763.0L827.0 764.0L833.5 764.0L834.0 762.0L836.5 762.0L837.0 763.0L875.0 763.0L875.5 764.0L882.5 764.0L883.0 763.0L883.5 763.0L884.0 764.0L886.5 764.0L887.0 763.0L893.5 763.0L894.0 764.0L909.5 764.0"/>
<path stroke="#ff00ff" d="M188.5 726.0L193.5 726.0L194.0 727.0L200.5 727.0L201.0 726.0L202.0 726.0L202.5 727.0L205.5 727.0L206.0 728.0L212.5 728.0L213.0 726.0L215.5 726.0L216.0 728.0L220.5 728.0L221.0 727.0L222.5 727.0L223.0 726.0L225.5 726.0L226.0 728.0L227.5 728.0L228.0 727.0L234.5 727.0L235.0 728.0L239.5 728.0L240.0 727.0L242.5 727.0L243.0 728.0L244.5 728.0L245.0 726.0L247.0 726.0L247.5 727.0L248.0 728.0L250.5 728.0L251.0 729.0L254.5 729.0L255.0 728.0L258.5 728.0L259.0 729.0L261.5 729.0L262.0 727.0L262.5 727.0L263.0 728.0L271.5 728.0L272.0 729.0L275.5 729.0L276.0 728.0L292.0 728.0L292.5 729.0L293.5 729.0L294.0 730.0L298.5 730.0L299.0 729.0L301.5 729.0L302.0 730.0L305.5 730.0L306.0 729.0L308.5 729.0L309.0 730.0L313.5 730.0L314.0 729.0L318.5 729.0L319.0 728.0L320.5 728.0L321.0 729.0L337.0 729.0L337.5 730.0L341.5 730.0L342.0 731.0L343.5 731.0L344.0 730.0L350.5 730.0L351.0 731.0L357.5 731.0L358.0 730.0L362.5 730.0L363.0 729.0L365.5 729.0L366.0 730.0L370.5 730.0L371.0 729.0L373.5 729.0L374.0 730.0L376.5 730.0L377.0 729.0L382.0 729.0L382.5 730.0L383.5 730.0L384.0 731.0L385.5 731.0L386.0 732.0L386.5 732.0L387.0 731.0L392.5 731.0L393.0 732.0L395.5 732.0L396.0 731.0L405.5 731.0L406.0 732.0L409.5 732.0L410.0 730.7L410.5 730.6L411.0 730.4L411.5 730.2L412.0 730.0L412.5 729.5L413.0 729.0L413.5 728.5L414.0 728.0L414.5 727.5L415.0 727.0L415.5 726.5L416.0 726.0L416.5 725.5L417.0 725.0L417.5 724.5L418.0 724.0L418.5 723.3L419.0 722.6L419.5 721.9L420.0 721.2L420.5 720.5L421.0 719.8L421.5 719.1L422.0 718.4L422.5 717.7L423.0 717.0L423.5 716.4L424.0 715.7L424.5 715.1L425.0 714.4L425.5 713.8L426.0 713.2L426.5 712.5L426.6 712.4L427.0 715.1L427.5 718.5L428.0 721.9L428.5 725.3L428.6 726.0L429.0 726.4L429.5 726.8L430.0 727.3L430.5 727.7L431.0 728.2L431.5 728.6L432.0 729.1L432.5 729.5L433.0 730.0L433.5 730.2L434.0 730.5L434.5 730.7L435.0 730.9L435.5 731.1L436.0 731.4L436.5 731.6L437.0 731.8L437.5 732.0L438.0 732.3L438.5 732.5L439.0 732.7L439.5 733.0L440.0 733.2L440.5 733.4L440.7 733.5L442.0 733.5L442.5 733.0L448.5 733.0L449.0 732.0L452.5 732.0L453.0 734.0L454.5 734.0L455.0 732.0L459.5 732.0L460.0 733.0L467.5 733.0L468.0 734.0L473.5 734.0L474.0 733.0L482.5 733.0L483.0 732.0L484.5 732.0L485.0 733.0L488.5 733.0L489.0 734.0L495.5 734.0L496.0 733.0L519.5 733.0L520.0 734.0L522.5 734.0L523.0 733.0L526.5 733.0L527.0 732.0L529.5 732.0L530.0 733.0L538.5 733.0L539.0 732.0L541.5 732.0L542.0 734.0L543.5 734.0L544.0 733.0L545.5 733.0L546.0 734.0L548.5 734.0L549.0 733.0L555.5 733.0L556.0 734.0L558.5 734.0L559.0 733.0L561.5 733.0L562.0 734.0L568.5 734.0L569.0 733.0L578.5 733.0L579.0 734.0L580.5 734.0L581.0 733.0L606.0 733.0L606.5 732.8L607.0 732.6L607.5 732.4L608.0 732.2L608.5 732.0L609.0 731.9L609.5 731.7L610.0 731.5L610.5 730.9L611.0 730.4L611.5 729.8L612.0 729.3L612.3 729.0L612.5 722.5L613.0 706.4L613.2 700.0L613.5 676.5L613.8 653.0L614.0 650.6L614.5 644.7L614.9 640.0L615.0 635.5L615.5 613.0L616.8 613.0L617.0 622.0L617.4 640.0L617.5 641.2L618.0 647.1L618.5 653.0L619.0 679.4L619.2 690.0L619.5 698.6L620.0 713.0L620.5 717.3L621.0 721.6L621.5 723.5L622.0 725.4L622.5 727.3L623.0 729.2L623.4 730.7L623.5 730.7L624.0 731.1L624.5 731.4L625.0 731.7L625.5 732.0L626.0 732.4L626.5 732.7L627.0 733.0L627.5 733.3L628.0 733.7L628.5 734.0L629.0 734.0L629.5 735.0L630.0 734.0L630.5 735.0L636.5 735.0L637.0 736.0L643.5 736.0L644.0 735.0L646.5 735.0L647.0 737.0L653.5 737.0L654.0 736.0L658.5 736.0L659.0 737.0L660.5 737.0L661.0 736.0L664.5 736.0L665.0 737.0L665.5 737.0L666.0 736.0L670.5 736.0L671.0 737.0L679.5 737.0L680.0 736.0L686.5 736.0L687.0 737.0L691.5 737.0L692.0 735.0L696.5 735.0L697.0 736.0L702.5 736.0L703.0 735.0L704.5 735.0L705.0 736.0L709.5 736.0L710.0 737.0L716.5 737.0L717.0 736.0L717.5 736.0L718.0 735.0L719.5 735.0L720.0 737.0L723.5 737.0L724.0 736.0L727.5 736.0L728.0 735.0L733.0 735.0L733.5 734.0L735.5 734.0L736.0 733.6L736.5 733.4L737.0 733.1L737.5 732.8L738.0 732.5L738.5 732.1L739.0 731.6L739.5 731.1L740.0 730.5L740.5 729.7L741.0 728.9L741.5 727.8L742.0 726.5L742.5 725.0L743.0 723.1L743.5 720.7L744.0 717.7L744.5 713.8L745.0 709.0L745.5 703.0L746.0 695.6L746.5 687.2L747.0 678.7L747.5 672.1L748.0 669.5L748.5 672.1L749.0 678.8L749.5 687.3L750.0 695.7L750.5 703.0L751.0 709.1L751.5 713.9L752.0 717.7L752.5 720.8L753.0 723.2L753.5 725.1L754.0 726.7L754.5 728.0L755.0 729.0L755.5 729.9L756.0 730.6L756.5 731.3L757.0 731.8L757.5 732.3L758.0 732.7L758.5 733.0L759.0 733.3L759.5 733.6L760.0 733.9L760.5 733.0L761.0 734.0L761.5 734.0L762.0 735.0L766.0 735.0L766.5 736.0L784.0 736.0L784.5 737.0L810.5 737.0L811.0 738.0L814.5 738.0L815.0 737.0L896.0 737.0L896.5 738.0L909.5 738.0"/>
<path stroke="#ffff00" d="M188.5 712.0L191.5 712.0L192.0 713.0L196.5 713.0L197.0 712.0L200.0 712.0L200.5 713.0L238.5 713.0L239.0 714.0L244.0 714.0L244.5 715.0L254.5 715.0L255.0 714.0L259.5 714.0L260.0 715.0L273.5 715.0L274.0 716.0L275.5 716.0L276.0 715.0L402.0 715.0L402.5 716.0L404.5 716.0L405.0 715.7L406.0 715.8L406.5 715.0L407.0 714.3L407.5 713.5L408.0 712.8L408.5 712.0L409.0 710.3L409.5 708.6L410.0 706.9L410.4 705.6L410.5 706.0L411.0 707.7L411.5 709.5L412.0 711.2L412.5 713.0L413.0 713.4L413.5 713.8L414.0 714.2L414.5 714.6L415.0 715.0L415.5 714.8L416.0 714.6L416.5 714.4L417.0 714.2L417.5 714.0L418.0 713.8L418.5 713.6L419.0 713.4L419.5 713.2L420.0 713.0L420.5 712.5L421.0 712.0L421.5 711.5L422.0 711.0L422.5 710.5L423.0 710.0L423.5 709.5L424.0 709.0L424.5 708.5L425.0 708.0L425.5 707.5L426.0 707.0L426.5 706.8L427.0 706.5L427.5 706.3L428.0 706.1L428.5 705.8L429.0 705.6L429.5 705.3L430.0 705.1L430.5 704.9L431.0 704.6L431.5 704.4L432.0 704.6L432.5 704.9L433.0 705.1L433.5 705.3L434.0 705.6L434.5 705.8L435.0 706.1L435.5 706.3L436.0 706.5L436.5 706.8L437.0 707.0L437.5 707.3L438.0 707.6L438.5 707.9L439.0 708.2L439.5 708.6L440.0 708.9L440.5 709.2L441.0 709.5L441.5 709.8L442.0 710.1L442.5 710.4L443.0 710.8L443.5 711.1L444.0 711.4L444.5 711.7L445.0 712.0L445.5 712.2L446.0 712.4L446.5 712.6L447.0 712.9L447.5 713.1L448.0 713.3L448.5 713.5L449.0 713.7L449.5 713.9L450.0 714.1L450.5 714.4L451.0 714.6L451.5 714.8L452.0 715.0L452.5 715.1L453.0 715.2L453.5 715.4L454.0 715.5L454.5 715.6L455.0 715.8L455.5 715.9L456.0 716.0L456.5 716.1L457.0 716.2L457.5 716.4L458.0 716.5L458.5 716.6L459.0 716.8L459.5 716.9L460.0 717.0L531.5 717.0L532.0 718.0L535.5 718.0L536.0 717.0L545.5 717.0L546.0 716.0L546.5 716.0L547.0 718.0L551.5 718.0L552.0 717.0L558.5 717.0L559.0 716.0L562.5 716.0L563.0 717.0L565.5 717.0L566.0 718.0L569.5 718.0L570.0 717.0L572.5 717.0L573.0 716.0L578.5 716.0L579.0 718.0L583.5 718.0L584.0 717.0L587.5 717.0L588.0 716.8L588.5 716.6L589.0 716.5L589.5 716.3L590.0 716.2L590.5 716.0L591.0 715.9L591.5 715.8L592.0 715.6L592.5 715.5L593.0 715.3L593.5 715.1L594.0 715.0L594.5 713.5L595.0 712.0L595.5 710.5L596.0 709.0L596.5 707.5L597.0 706.0L597.5 700.8L598.0 695.5L598.5 690.2L599.0 685.0L599.5 681.6L600.0 678.1L600.5 674.7L600.6 674.0L601.0 678.6L601.5 684.3L602.0 690.0L602.5 694.4L603.0 698.9L603.5 703.3L604.0 707.7L604.3 710.4L604.5 710.5L605.0 710.8L605.5 711.2L606.0 711.5L606.5 711.8L607.0 712.1L607.5 712.4L608.0 712.7L608.5 713.1L609.0 713.4L609.5 713.7L610.0 714.0L610.5 714.2L611.0 714.4L611.5 714.6L612.0 714.7L612.5 714.9L613.0 715.1L613.5 715.3L614.0 715.5L614.5 715.7L615.0 715.9L615.5 716.0L616.0 716.2L616.5 716.4L617.0 716.6L617.5 716.8L618.0 717.0L618.5 717.2L619.0 717.3L619.5 717.5L620.0 717.7L620.5 717.9L621.0 718.1L621.3 718.2L624.0 718.2L624.5 718.0L631.5 718.0L632.0 717.0L637.5 717.0L638.0 718.0L653.5 718.0L654.0 719.0L660.5 719.0L661.0 718.0L666.5 718.0L667.0 717.0L673.5 717.0L674.0 718.0L675.5 718.0L676.0 719.0L682.5 719.0L683.0 718.0L688.5 718.0L689.0 717.0L689.5 717.0L690.0 718.0L693.5 718.0L694.0 717.0L696.5 717.0L697.0 718.0L705.5 718.0L706.0 717.0L708.5 717.0L709.0 718.0L712.5 718.0L713.0 717.0L717.5 717.0L718.0 717.6L720.0 717.5L720.5 717.1L721.0 716.8L721.5 716.4L722.0 716.0L722.5 715.6L723.0 715.2L723.5 714.9L724.0 714.5L724.5 714.1L725.0 713.8L725.5 713.4L726.0 713.0L726.5 711.8L727.0 710.5L727.5 709.2L728.0 708.0L728.5 706.8L729.0 705.5L729.5 704.2L730.0 703.0L730.5 701.9L731.0 700.9L731.5 699.8L732.0 698.7L732.2 698.3L732.5 699.0L733.0 700.3L733.5 701.5L734.0 702.8L734.5 704.0L735.0 705.3L735.5 706.6L736.0 707.9L736.5 709.1L737.0 710.4L737.5 711.7L738.0 713.0L738.5 713.5L739.0 713.9L739.5 714.4L740.0 714.8L740.5 715.2L741.0 715.7L741.5 716.1L742.0 716.6L742.5 717.0L743.0 717.5L743.5 717.6L744.0 717.6L744.5 717.7L745.0 717.7L745.5 717.8L746.0 717.8L746.5 717.9L747.0 718.0L747.5 718.0L748.0 718.1L748.5 718.1L749.0 718.2L749.5 718.2L750.0 718.3L909.5 718.4"/>
<path stroke="#808000" d="M188.5 680.0L232.5 680.0L233.0 679.0L235.5 679.0L236.0 680.0L241.5 680.0L242.0 681.0L243.5 681.0L244.0 682.0L245.5 682.0L246.0 681.0L254.5 681.0L255.0 682.0L261.5 682.0L262.0 679.0L266.5 679.0L267.0 682.0L268.5 682.0L269.0 680.0L269.5 680.0L270.0 681.0L272.5 681.0L273.0 679.0L279.5 679.0L280.0 681.0L286.5 681.0L287.0 682.0L290.5 682.0L291.0 681.0L292.5 681.0L293.0 682.0L294.5 682.0L295.0 681.0L298.5 681.0L299.0 682.0L300.5 682.0L301.0 683.0L305.5 683.0L306.0 682.0L310.5 682.0L311.0 683.0L315.5 683.0L316.0 682.0L327.5 682.0L328.0 683.0L329.5 683.0L330.0 682.0L330.5 681.6L331.0 681.2L331.5 680.8L332.0 680.4L332.5 680.0L333.0 679.0L333.5 678.0L334.0 677.0L334.5 676.0L335.0 676.6L335.5 677.2L336.0 677.8L336.5 678.4L337.0 679.0L337.5 679.6L338.0 680.2L338.5 680.8L339.0 681.3L339.5 681.9L340.0 682.5L340.5 683.0L348.5 683.0L349.0 681.0L350.5 681.0L351.0 683.0L355.5 683.0L356.0 684.0L364.5 684.0L365.0 683.0L389.5 683.0L390.0 684.0L393.5 684.0L394.0 683.0L401.0 683.0L401.5 684.0L410.5 684.0L411.0 682.0L412.5 682.0L413.0 684.0L413.5 684.0L414.0 683.7L414.5 683.5L415.0 683.4L415.5 683.2L416.0 683.0L416.5 680.8L417.0 678.6L417.5 676.3L417.8 675.0L418.0 672.7L418.5 666.9L419.0 661.0L419.5 655.2L420.0 649.4L420.5 630.4L421.0 611.4L421.3 600.0L421.5 523.6L421.8 409.0L422.0 408.6L422.5 407.5L423.0 406.5L423.5 405.5L424.0 404.4L424.2 404.0L424.3 187.0L425.7 187.0L426.0 565.7L426.5 567.3L427.0 569.0L427.3 570.0L427.5 617.5L428.0 618.3L428.5 619.0L429.0 619.8L429.5 620.5L430.0 621.3L430.5 622.1L431.0 622.8L431.5 623.6L432.0 625.4L432.5 627.2L433.0 629.1L433.5 630.9L434.0 632.7L434.5 634.5L435.0 636.4L435.5 638.2L436.0 640.0L436.5 642.0L437.0 644.0L437.5 646.1L438.0 648.1L438.5 650.1L439.0 652.1L439.5 654.2L440.0 656.2L440.5 658.2L440.6 658.6L441.0 659.9L441.5 661.6L442.0 663.2L442.5 664.9L443.0 666.5L443.5 668.2L444.0 669.8L444.5 671.5L445.0 673.1L445.2 673.8L445.5 674.3L446.0 675.1L446.5 675.9L447.0 676.8L447.5 677.6L448.0 678.4L448.5 679.3L449.0 680.1L449.5 680.9L449.8 681.4L450.0 681.5L450.5 681.8L451.0 682.0L451.5 682.2L452.0 682.5L452.5 682.8L453.0 683.0L453.5 683.2L454.0 683.5L454.5 683.8L455.0 684.0L455.5 684.2L455.8 684.4L456.0 684.5L456.5 684.6L457.0 684.7L457.5 684.8L458.0 685.0L458.5 686.0L459.0 684.0L459.5 684.0L460.0 685.0L460.5 685.0L461.0 686.0L473.5 686.0L474.0 685.0L474.5 685.0L475.0 686.0L480.5 686.0L481.0 687.0L485.5 687.0L486.0 684.0L487.5 684.0L488.0 687.0L490.0 687.0L490.5 686.0L491.0 684.0L491.5 683.0L492.0 682.0L492.5 682.0L493.0 683.0L493.5 684.0L494.0 685.0L494.5 686.0L496.5 686.0L497.0 687.0L498.5 687.0L499.0 686.0L501.5 686.0L502.0 684.0L504.5 684.0L505.0 686.0L507.5 686.0L508.0 687.0L511.5 687.0L512.0 686.0L514.5 686.0L515.0 687.0L516.5 687.0L517.0 686.0L521.5 686.0L522.0 687.0L525.5 687.0L526.0 686.0L531.5 686.0L532.0 685.0L534.5 685.0L535.0 687.0L538.5 687.0L539.0 686.0L541.5 686.0L542.0 687.0L549.5 687.0L550.0 684.0L553.5 684.0L554.0 687.0L557.5 687.0L558.0 685.0L560.5 685.0L561.0 686.0L579.5 686.0L580.0 687.0L582.5 687.0L583.0 686.0L594.5 686.0L595.0 687.0L597.5 687.0L598.0 686.0L604.5 686.0L605.0 684.0L607.5 684.0L608.0 686.0L617.5 686.0L618.0 687.0L619.5 687.0L620.0 686.0L625.5 686.0L626.0 685.7L628.0 685.7L628.5 684.8L629.0 683.8L629.5 682.9L630.0 681.9L630.5 681.0L631.0 680.0L631.5 678.8L632.0 677.7L632.5 676.5L633.0 675.3L633.5 674.2L634.0 673.0L634.5 671.8L634.6 671.6L635.0 672.3L635.5 673.2L636.0 674.2L636.5 675.1L637.0 676.0L637.5 677.0L638.0 678.0L638.5 679.0L639.0 680.0L639.5 678.0L640.0 676.0L640.5 674.0L641.0 672.0L641.5 669.8L642.0 667.5L642.5 665.2L643.0 663.0L643.5 661.3L644.0 659.6L644.5 657.8L644.6 657.5L645.0 659.6L645.5 662.3L646.0 665.0L646.5 668.2L647.0 671.5L647.5 674.8L648.0 678.0L648.5 679.7L649.0 681.4L649.5 683.1L650.0 684.8L650.4 686.2L652.0 686.3L652.5 686.0L654.0 686.0L654.5 687.0L681.5 687.0L682.0 688.0L686.5 688.0L687.0 687.0L699.5 687.0L700.0 688.0L700.5 688.0L701.0 689.0L701.5 689.0L702.0 688.0L739.5 688.0L740.0 686.0L744.5 686.0L745.0 688.0L753.5 688.0L754.0 686.0L758.5 686.0L759.0 688.0L767.5 688.0L768.0 687.0L768.5 687.0L769.0 688.0L787.5 688.0L788.0 687.0L794.5 687.0L795.0 688.0L814.5 688.0L815.0 686.0L821.5 686.0L822.0 689.0L823.5 689.0L824.0 688.0L882.5 688.0L883.0 687.0L885.5 687.0L886.0 688.0L909.5 688.0"/>
<path stroke="#808000" stroke-width="1.3" d="M424 146V188"/>
</g>
<g stroke="#000" fill="none" stroke-linecap="butt">
<path stroke-width="3.5" d="M183.1 31 V885.6"/>
<path stroke-width="3.6" d="M165.3 868.6 H1003.8"/>
<path stroke-width="2.4" d="M174.3 784.8 H183"/>
<path stroke-width="3.6" d="M165.3 699.8 H183"/>
<path stroke-width="2.4" d="M174.3 618.0 H183"/>
<path stroke-width="3.6" d="M165.3 532.4 H183"/>
<path stroke-width="2.4" d="M174.3 450.8 H183"/>
<path stroke-width="3.6" d="M165.3 365.6 H183"/>
<path stroke-width="2.4" d="M174.3 283.5 H183"/>
<path stroke-width="3.6" d="M165.3 200.1 H183"/>
<path stroke-width="2.4" d="M174.3 116.4 H183"/>
<path stroke-width="3.6" d="M165.3 32.8 H183"/>
<path stroke-width="3.5" d="M274.8 868.6 V879.4"/>
<path stroke-width="3.7" d="M364.7 868.6 V887.8"/>
<path stroke-width="3.5" d="M455.2 868.6 V879.4"/>
<path stroke-width="3.7" d="M547.0 868.6 V887.8"/>
<path stroke-width="3.5" d="M637.6 868.6 V879.4"/>
<path stroke-width="3.7" d="M729.1 868.6 V887.8"/>
<path stroke-width="3.5" d="M819.4 868.6 V879.4"/>
<path stroke-width="3.7" d="M909.7 868.6 V887.8"/>
<path stroke-width="3.5" d="M1001.9 868.6 V879.4"/>
</g>
<g font-family="'Liberation Sans', Arial, sans-serif" font-size="35" fill="#000" stroke="#000" stroke-width="0.45">
<text x="153.8" y="41.9" text-anchor="end">5000</text>
<text x="153.8" y="209.1" text-anchor="end">4000</text>
<text x="153.8" y="376.2" text-anchor="end">3000</text>
<text x="153.8" y="543.4" text-anchor="end">2000</text>
<text x="153.8" y="710.5" text-anchor="end">1000</text>
<text x="153.8" y="877.6" text-anchor="end">0</text>
<text x="183.4" y="925.2" text-anchor="middle">20</text>
<text x="365.0" y="925.2" text-anchor="middle">30</text>
<text x="547.3" y="925.2" text-anchor="middle">40</text>
<text x="729.4" y="925.2" text-anchor="middle">50</text>
<text x="910.2" y="925.2" text-anchor="middle">60</text>
</g>
<text font-family="'Liberation Serif', 'Times New Roman', serif" font-weight="bold" font-size="47" fill="#000" text-anchor="middle" transform="translate(41.6 448.5) rotate(-90) scale(1 1.05)">Intensity</text>
<text font-family="'Liberation Serif', 'Times New Roman', serif" font-weight="bold" font-size="48" fill="#000" x="605.5" y="972">2</text>
<text font-family="'Liberation Serif', 'Times New Roman', serif" font-weight="bold" font-size="44.5" fill="#000" stroke="#000" stroke-width="0.9" transform="translate(631.8 972) scale(1.17 1)"><tspan font-weight="normal">θ</tspan></text>
<g font-family="'Liberation Serif', 'Times New Roman', serif" font-weight="bold" font-size="46.5" fill="#000">
<path d="M774.3 98.3 H870.3" stroke="#000000" stroke-width="1.7" fill="none"/>
<text transform="translate(879.6 114.5) scale(1.07 1)">RT</text>
<path d="M774.3 150.2 H870.3" stroke="#ff0000" stroke-width="1.7" fill="none"/>
<text transform="translate(880.3 165.0) scale(1.05 1)">300</text>
<text font-size="28" transform="translate(966.3 146.4) scale(1.2 1)">o</text>
<text transform="translate(982 165.0) scale(1.05 1)">C</text>
<path d="M774.3 200.8 H870.3" stroke="#00ff00" stroke-width="1.7" fill="none"/>
<text transform="translate(880.3 217.1) scale(1.05 1)">400</text>
<text font-size="28" transform="translate(966.3 197.0) scale(1.2 1)">o</text>
<text transform="translate(982 217.1) scale(1.05 1)">C</text>
<path d="M774.3 251.3 H870.3" stroke="#0000ff" stroke-width="1.7" fill="none"/>
<text transform="translate(880.3 267.6) scale(1.05 1)">500</text>
<text font-size="28" transform="translate(966.3 247.5) scale(1.2 1)">o</text>
<text transform="translate(982 267.6) scale(1.05 1)">C</text>
<path d="M774.3 301.7 H870.3" stroke="#00ffff" stroke-width="1.7" fill="none"/>
<text transform="translate(880.3 318.0) scale(1.05 1)">600</text>
<text font-size="28" transform="translate(966.3 297.9) scale(1.2 1)">o</text>
<text transform="translate(982 318.0) scale(1.05 1)">C</text>
<path d="M774.3 352.2 H870.3" stroke="#ff00ff" stroke-width="1.7" fill="none"/>
<text transform="translate(880.3 368.5) scale(1.05 1)">700</text>
<text font-size="28" transform="translate(966.3 348.4) scale(1.2 1)">o</text>
<text transform="translate(982 368.5) scale(1.05 1)">C</text>
<path d="M774.3 402.8 H870.3" stroke="#ffff00" stroke-width="1.7" fill="none"/>
<text transform="translate(880.3 419.1) scale(1.05 1)">750</text>
<text font-size="28" transform="translate(966.3 399.0) scale(1.2 1)">o</text>
<text transform="translate(982 419.1) scale(1.05 1)">C</text>
<path d="M774.3 454.8 H870.3" stroke="#808000" stroke-width="1.7" fill="none"/>
<text transform="translate(880.3 471.1) scale(1.05 1)">800</text>
<text font-size="28" transform="translate(966.3 451.0) scale(1.2 1)">o</text>
<text transform="translate(982 471.1) scale(1.05 1)">C</text>
</g>
<g font-family="'Liberation Serif', 'Times New Roman', serif" font-weight="bold" font-size="47" fill="#000">
<text transform="translate(513 169.2) scale(1.043 1)">Cu<tspan font-size="30" dy="12.5">3</tspan><tspan dy="-12.5">Si(012)</tspan></text>
<text transform="translate(508 235.2) scale(1.043 1)">Cu<tspan font-size="30" dy="12.5">3</tspan><tspan dy="-12.5">Si(300)</tspan></text>
<text transform="translate(508 301.2) scale(1.066 1)">Cu(111)</text>
<text transform="translate(503 365.7) scale(1.024 1)">Cu(200)</text>
</g>
<rect x="479" y="155" width="20" height="15.5" fill="#000"/>
<rect x="478" y="219" width="21" height="18" fill="#fff" stroke="#000" stroke-width="2"/>
<ellipse cx="488.3" cy="294.3" rx="9.2" ry="7.7" fill="#fff" stroke="#000" stroke-width="2.4"/>
<ellipse cx="488.7" cy="358.8" rx="10.7" ry="8.8" fill="#000"/>
<circle cx="608.5" cy="544.8" r="7.5" fill="#fff" stroke="#000" stroke-width="3"/>
<rect x="641" y="633.5" width="16.7" height="14.4" fill="#fff" stroke="#000" stroke-width="3"/>
<rect x="623" y="651.6" width="18.3" height="17" fill="#000"/>
<ellipse cx="745.6" cy="650.8" rx="9" ry="9.7" fill="#000"/>
</svg>
</body>
</html>
